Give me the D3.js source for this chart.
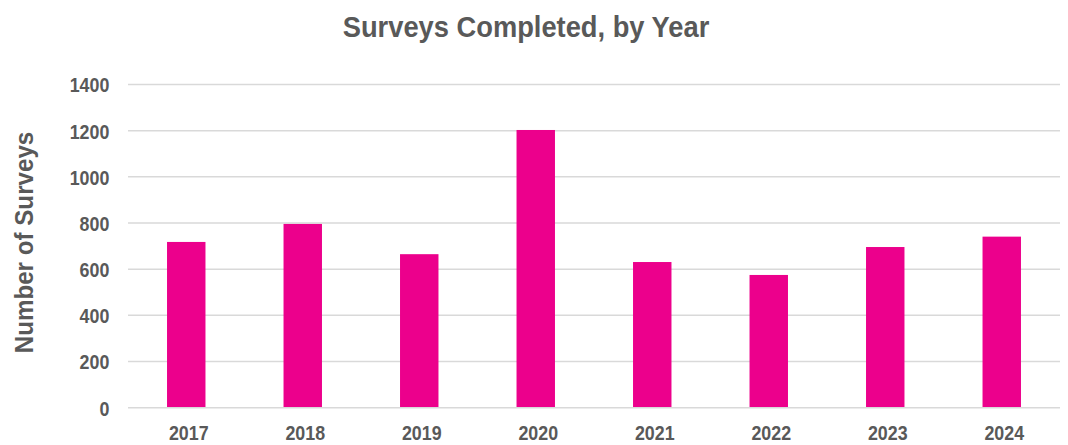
<!DOCTYPE html>
<html><head><meta charset="utf-8">
<script src="https://cdn.jsdelivr.net/npm/d3@7"></script>
<style>html,body{margin:0;padding:0;background:#fff;}svg{display:block;}</style>
</head><body>
<svg id="chart" width="1068" height="445"></svg>
<script>
const years = ["2017","2018","2019","2020","2021","2022","2023","2024"];
const surveys = [718, 796, 665, 1203, 631, 575, 696, 741];
const yTicks = [0, 200, 400, 600, 800, 1000, 1200, 1400];
const title = "Surveys Completed, by Year";
const yTitle = "Number of Surveys";

(function () {
const svg = d3.select("#chart");
const font = "'Liberation Sans',Arial,sans-serif";
const grey = "#595959";
const mLeft = 128, mRight = 1060, mTop = 84.5, mBottom = 407.7;
const narrow = 0.85;

const x = d3.scaleBand().domain(years).range([mLeft, mRight]).paddingInner(0.67).paddingOuter(0.335);
const y = d3.scaleLinear().domain([0, 1400]).range([mBottom, mTop]);

// gridlines
svg.append("g").selectAll("line").data(yTicks.filter(d => d > 0)).join("line")
  .attr("x1", mLeft).attr("x2", mRight)
  .attr("y1", d => y(d)).attr("y2", d => y(d))
  .attr("stroke", "#d9d9d9").attr("stroke-width", 1.5);

// bars
svg.append("g").selectAll("rect").data(years).join("rect")
  .attr("x", d => x(d)).attr("width", x.bandwidth())
  .attr("y", (d, i) => y(surveys[i]))
  .attr("height", (d, i) => y(0) - y(surveys[i]))
  .attr("fill", "#ec008c");

// zero line
svg.append("line").attr("x1", mLeft).attr("x2", mRight)
  .attr("y1", y(0)).attr("y2", y(0))
  .attr("stroke", "#d9d9d9").attr("stroke-width", 1.5);

// y axis labels
const yAxis = d3.axisLeft(y).tickValues(yTicks).tickSize(0).tickPadding(0).tickFormat(d3.format("d"));
const gy = svg.append("g").attr("transform", `translate(${mLeft - 18.7},0)`).call(yAxis);
gy.select(".domain").remove();
gy.selectAll("text").attr("font-family", font).attr("font-weight", "bold")
  .attr("font-size", 21).attr("fill", grey).attr("dy", "0.35em")
  .attr("transform", `scale(${narrow},1)`);

// x axis labels
const xAxis = d3.axisBottom(x).tickSize(0).tickPadding(0);
const gx = svg.append("g").attr("transform", `translate(2.5,440.4)`).call(xAxis);
gx.select(".domain").remove();
gx.selectAll("text").attr("font-family", font).attr("font-weight", "bold")
  .attr("font-size", 21).attr("fill", grey).attr("dy", "0")
  .attr("transform", `scale(${narrow},1)`);

// title
svg.append("text").attr("transform", `translate(526,36.7) scale(0.91,1)`).attr("text-anchor", "middle")
  .attr("font-family", font).attr("font-weight", "bold").attr("font-size", 30)
  .attr("fill", grey).text(title);

// y title
svg.append("text").attr("transform", `translate(32.7,242.5) rotate(-90) scale(0.93,1)`)
  .attr("text-anchor", "middle").attr("font-family", font).attr("font-weight", "bold")
  .attr("font-size", 26).attr("fill", grey).text(yTitle);
})();
</script>
</body></html>
